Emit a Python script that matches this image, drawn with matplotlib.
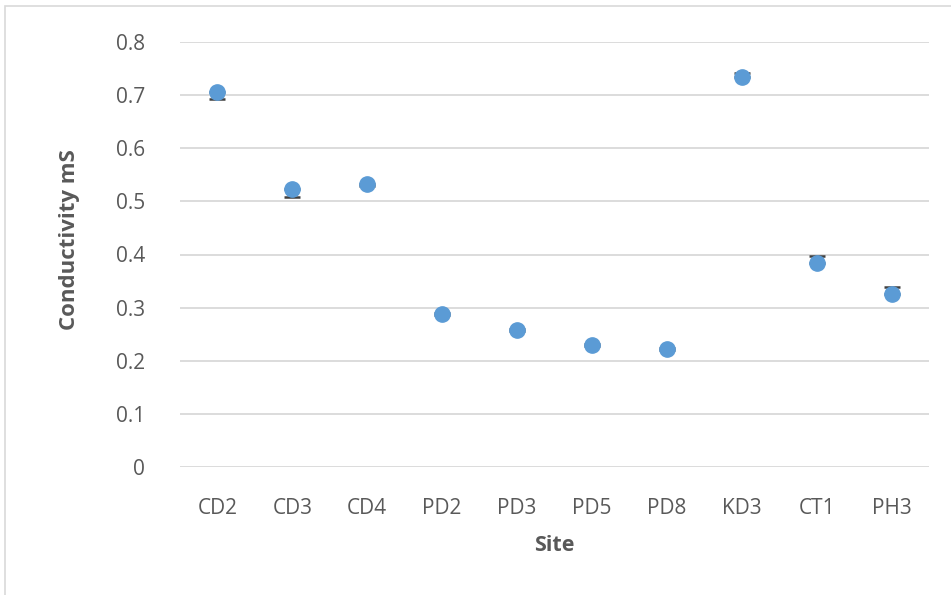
import matplotlib.pyplot as plt
from matplotlib.patches import Rectangle
import numpy as np

sites = ['CD2', 'CD3', 'CD4', 'PD2', 'PD3', 'PD5', 'PD8', 'KD3', 'CT1', 'PH3']
conductivity = [0.705, 0.523, 0.532, 0.288, 0.258, 0.229, 0.222, 0.734, 0.384, 0.325]
err_low = [0.013, 0.014, 0.003, 0.002, 0.002, 0.002, 0.002, 0.0, 0.0, 0.0]
err_high = [0.0, 0.0, 0.0, 0.002, 0.002, 0.002, 0.002, 0.008, 0.013, 0.013]

plt.rcParams['font.family'] = ['Open Sans', 'DejaVu Sans']
grey = '#595959'

fig = plt.figure(figsize=(9.51, 5.95), dpi=100)
ax = fig.add_axes([180 / 951, 1 - 467 / 595, 749 / 951, 425 / 595])

# light chart-area border
fig.patches.append(Rectangle((5 / 951, -0.1), 1.2, 1 - 6 / 595 + 0.1,
                             transform=fig.transFigure, fill=False,
                             edgecolor='#d9d9d9', linewidth=1.2))

x = np.arange(len(sites))
ax.errorbar(x, conductivity, yerr=[err_low, err_high], fmt='none',
            ecolor='#404040', elinewidth=1.2, capsize=6, capthick=1.8, zorder=2)
ax.plot(x, conductivity, 'o', color='#5b9bd5', markersize=11, zorder=3)

ax.set_xlim(-0.5, len(sites) - 0.5)
ax.set_ylim(0, 0.8)
ax.set_yticks(np.arange(0, 0.81, 0.1))
ax.set_yticklabels(['0'] + ['%.1f' % v for v in np.arange(0.1, 0.81, 0.1)])
ax.set_xticks(x)
ax.set_xticklabels(sites)
ax.grid(axis='y', color='#d9d9d9', linewidth=1.3)
ax.set_axisbelow(True)
for s in ax.spines.values():
    s.set_visible(False)
ax.tick_params(length=0, labelsize=15, colors=grey)
ax.tick_params(axis='y', pad=25)
ax.tick_params(axis='x', pad=22)

ax.set_xlabel('Site', fontsize=15.5, fontweight='bold', color=grey, labelpad=12)
ax.set_ylabel('Conductivity mS', fontsize=16, fontweight='bold', color=grey)
ax.yaxis.set_label_coords(-0.133, 0.535)

fig.savefig('out.png', dpi=100)
